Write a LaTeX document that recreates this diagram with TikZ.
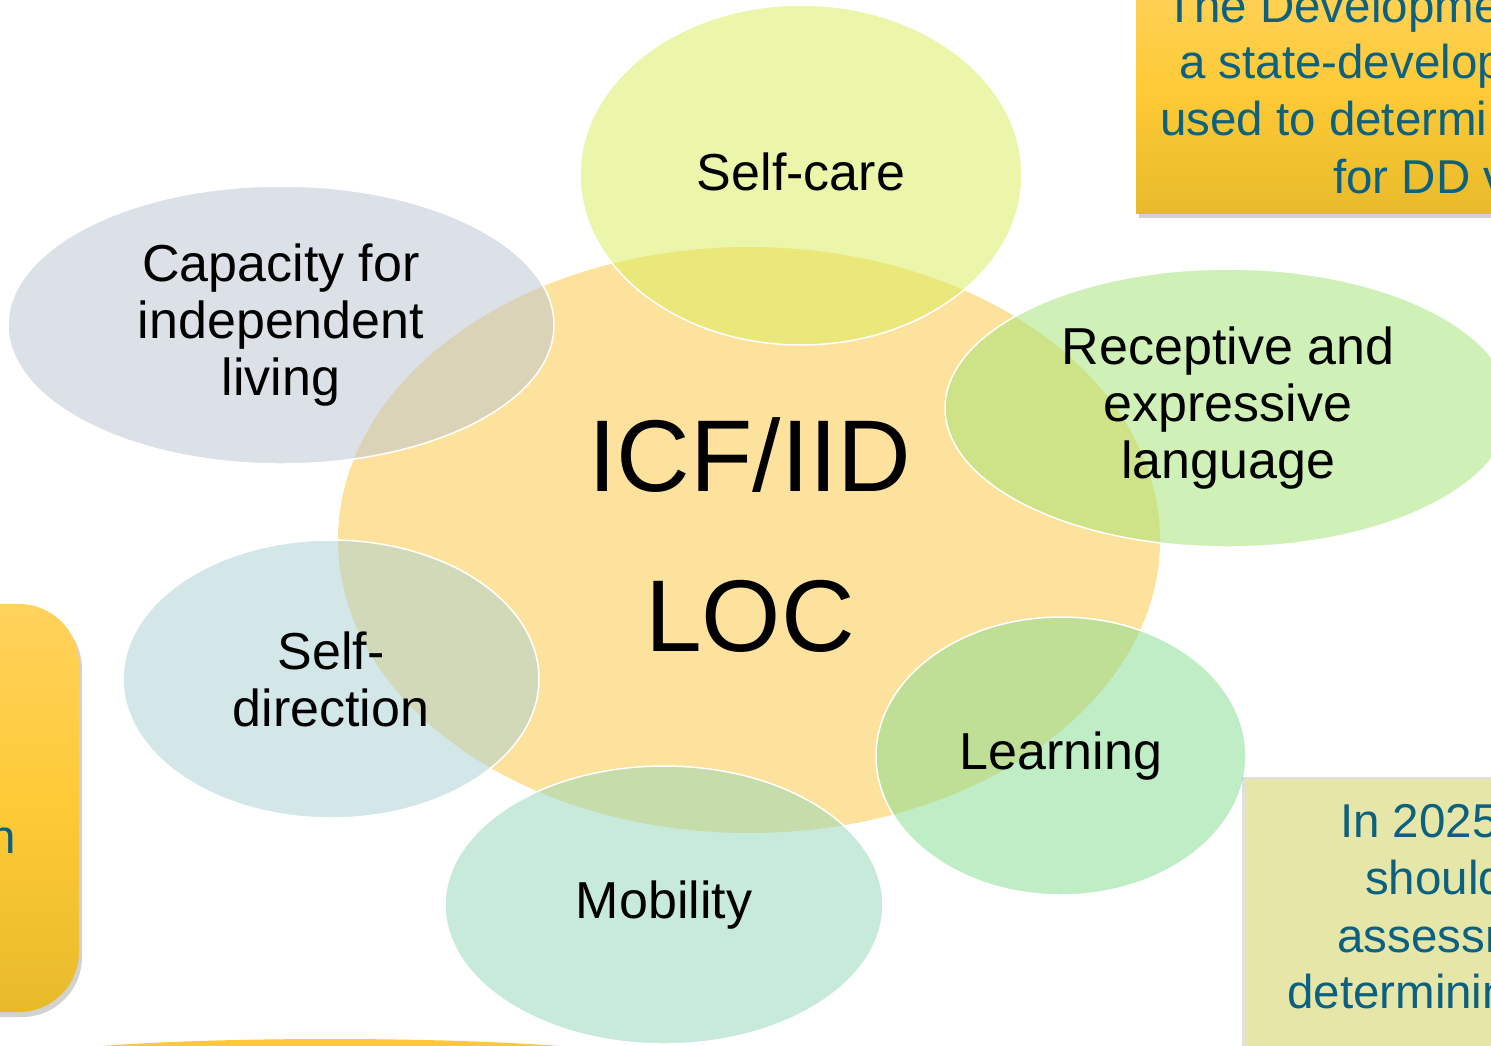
\documentclass[tikz,border=0pt]{standalone}
\usepackage{fontspec}
\setmainfont{Liberation Sans}
\usetikzlibrary{shapes.geometric,shadows}

\definecolor{hubfill}{RGB}{253,226,158}
\definecolor{carefill}{RGB}{217,239,89}
\definecolor{livingfill}{RGB}{185,197,209}
\definecolor{languagefill}{RGB}{161,229,115}
\definecolor{directionfill}{RGB}{169,209,213}
\definecolor{mobilityfill}{RGB}{147,215,185}
\definecolor{learningfill}{RGB}{129,221,141}
\definecolor{boxtop}{RGB}{255,210,92}
\definecolor{boxmid}{RGB}{254,202,54}
\definecolor{boxbottom}{RGB}{232,186,42}
\definecolor{notefill}{RGB}{229,230,168}
\definecolor{notetext}{RGB}{13,97,128}
\definecolor{edgeyellow}{RGB}{254,200,58}

\tikzset{
  hub/.style={ellipse, fill=hubfill, inner sep=0pt, align=center,
    minimum width=822pt, minimum height=586pt},
  lifearea/.style={ellipse, draw=white, line width=1.5pt, fill opacity=0.5,
    text opacity=1, inner sep=0pt, align=center,
    font=\fontsize{52}{57}\selectfont},
  golden/.style={top color=boxtop, bottom color=boxbottom, middle color=boxmid,
    drop shadow={opacity=0.35, shadow xshift=3pt, shadow yshift=-5pt}},
  note/.style={text=notetext, font=\fontsize{47.5}{57}\selectfont,
    anchor=base west, inner sep=0pt}
}

\begin{document}
\begin{tikzpicture}[x=1pt,y=-1pt]
\useasboundingbox (0,0) rectangle (1491,1045);
\fill [white] (0,0) rectangle (1491,1045);
\clip (0,0) rectangle (1491,1045);

% Central ellipse
\node [hub] (loc) at (749,540) {};
\node [font=\fontsize{102}{160}\selectfont, align=center] (loctext) at (750,535) {ICF/IID\\LOC};

% Areas around the centre
\node [lifearea, fill=carefill, minimum width=442pt, minimum height=340pt] (care) at (801,175) {};
\node [lifearea, fill=livingfill, minimum width=546pt, minimum height=278pt] (living) at (281,325) {Capacity for\\independent\\living};
\node [lifearea, fill=languagefill, minimum width=566pt, minimum height=278pt] (language) at (1228,408) {Receptive and\\expressive\\language};
\node [lifearea, fill=directionfill, minimum width=416pt, minimum height=278pt] (direction) at (331,679) {Self-\\direction};
\node [lifearea, fill=mobilityfill, minimum width=438pt, minimum height=278pt] (mobility) at (664,905) {Mobility};
\node [lifearea, fill=learningfill, minimum width=370pt, minimum height=278pt] (learning) at (1061,756) {Learning};
\node [font=\fontsize{52}{57}\selectfont, anchor=base] (caretext) at (801,190) {Self-care};

% Boxes cut by the page edges
\path [golden] (1136,-30) rectangle (1540,213);
\path [golden, rounded corners=60pt] (-120,604) rectangle (79,1012);
\path [fill=notefill, drop shadow={opacity=0.25, shadow xshift=-3pt, shadow yshift=2pt}] (1245,779) rectangle (1540,1080);
\fill [edgeyellow] (330,1062) ellipse [x radius=320pt, y radius=23pt];

% Text of the boxes
\foreach \txt/\x/\y [count=\i] in {The Developme/1165/22, a state-develop/1179/78, used to determi/1160/135, for DD v/1333/193}
  \node [note] (topline\i) at (\x,\y) {\txt};
\foreach \txt/\x/\y [count=\i] in {In 2025/1340/837, should/1365/894, assessm/1337/952, determinin/1287/1008}
  \node [note] (noteline\i) at (\x,\y) {\txt};
\node [note] (leftline) at (-11,853) {n};

\end{tikzpicture}
\end{document}
